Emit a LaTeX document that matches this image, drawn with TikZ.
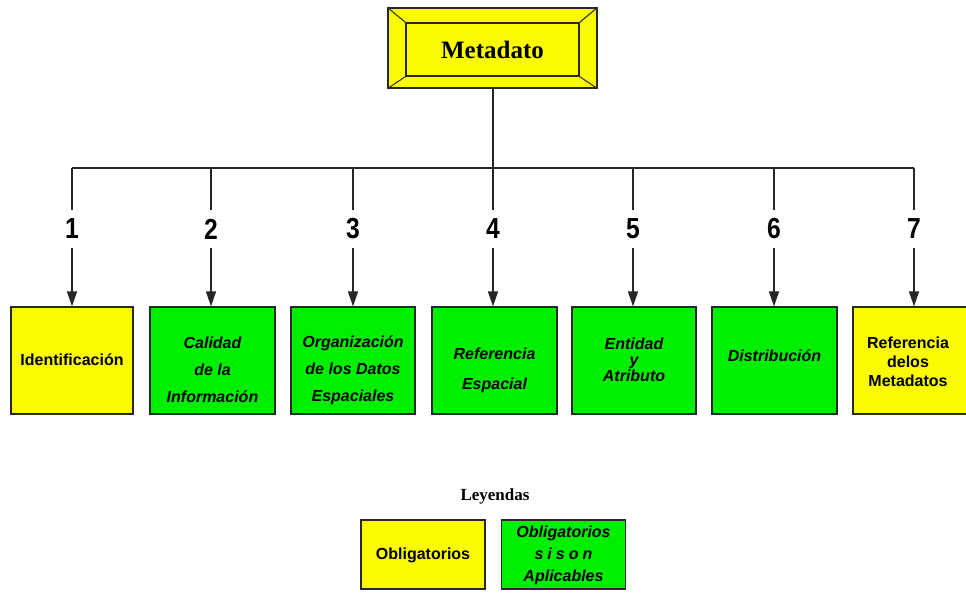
\documentclass[tikz,border=0pt]{standalone}
\usepackage{fontspec}
\setmainfont{Liberation Serif}
\newfontfamily\boxfont{Liberation Sans}
\newfontfamily\numfont[FakeStretch=0.85]{Liberation Sans}
\usetikzlibrary{arrows.meta}
\definecolor{ybox}{RGB}{250,250,0}
\definecolor{gbox}{RGB}{0,238,0}
\definecolor{edge}{RGB}{40,40,40}
\begin{document}
\begin{tikzpicture}[x=1pt,y=-1pt,
  conn/.style={line width=1.3pt, draw=black!85},
  arr/.style={conn,-{Triangle[width=10pt,length=15pt]}},
  catbox/.style={draw=edge, line width=1.3pt, minimum width=124pt, minimum height=107pt, inner sep=0pt},
  ycat/.style={catbox, fill=ybox},
  gcat/.style={catbox, fill=gbox},
  btxt/.style={inner sep=0pt, align=center, font=\boxfont\bfseries\fontsize{16}{19}\selectfont},
  itxt/.style={inner sep=0pt, align=center, font=\boxfont\bfseries\itshape\fontsize{16}{27}\selectfont},
  num/.style={inner sep=0pt, minimum height=38pt, font=\numfont\bfseries\fontsize{29}{29}\selectfont},
  legbox/.style={draw=edge, line width=1.3pt, minimum width=124pt, minimum height=69pt, inner sep=0pt}
]
\useasboundingbox (0,0) rectangle (966,592);
\clip (0,0) rectangle (966,592);
\fill[white] (0,0) rectangle (966,592);

% Metadato bevel box
\node[draw=edge, line width=1.3pt, fill=ybox, minimum width=209pt, minimum height=80pt, inner sep=0pt] (meta) at (492.5,48) {};
\node[draw=edge, line width=1.3pt, minimum width=173pt, minimum height=53pt, inner sep=0pt,
      font=\bfseries\fontsize{25}{25}\selectfont] (metain) at (492.5,49.5) {Metadato};
\draw[edge, line width=1pt] (meta.north west) -- (metain.north west)
  (meta.north east) -- (metain.north east)
  (meta.south west) -- (metain.south west)
  (meta.south east) -- (metain.south east);

% bus
\coordinate (bus) at (493,168);
\coordinate (b1) at (72,168);
\coordinate (b2) at (211,168);
\coordinate (b3) at (353,168);
\coordinate (b4) at (493,168);
\coordinate (b5) at (633,168);
\coordinate (b6) at (774,168);
\coordinate (b7) at (914,168);
\draw[conn] (meta.south -| bus) -- (bus);
\draw[conn] (b1) -- (b7);

% numbers
\node[num] (n1) at (72,229) {1};
\node[num] (n2) at (211,229) {2};
\node[num] (n3) at (353,229) {3};
\node[num] (n4) at (493,229) {4};
\node[num] (n5) at (633,229) {5};
\node[num] (n6) at (774,229) {6};
\node[num] (n7) at (914,229) {7};

% category boxes
\node[ycat, minimum width=122pt] (c1) at (72,360.5) {};
\node[gcat, minimum width=125pt] (c2) at (212.5,360.5) {};
\node[gcat] (c3) at (353,360.5) {};
\node[gcat, minimum width=125pt] (c4) at (494.5,360.5) {};
\node[gcat] (c5) at (634,360.5) {};
\node[gcat, minimum width=125pt] (c6) at (774.5,360.5) {};
\node[ycat] (c7) at (915,360.5) {};

\foreach \i in {1,...,7} {
  \draw[conn] (b\i) -- (n\i.north);
  \draw[arr] (n\i.south) -- (n\i.south |- c\i.north);
}

% box texts
\node[btxt] (t1) at (72,360) {Identificación};
\node[itxt] (t2) at (212.5,370) {Calidad\\de la\\Información};
\node[itxt] (t3) at (353,370) {Organización\\de los Datos\\Espaciales};
\node[itxt, font=\boxfont\bfseries\itshape\fontsize{16}{30}\selectfont] (t4) at (494.5,370) {Referencia\\Espacial};
\node[itxt, font=\boxfont\bfseries\itshape\fontsize{16}{16}\selectfont] (t5) at (634,360) {Entidad\\y\\Atributo};
\node[itxt] (t6) at (774.5,356) {Distribución};
\node[btxt] (t7) at (908,362) {Referencia\\delos\\Metadatos};

% legend
\node[inner sep=0pt, font=\bfseries\fontsize{17}{17}\selectfont] (ley) at (495,496) {Leyendas};
\node[legbox, fill=ybox] (l1) at (423,554.5) {};
\node[legbox, fill=gbox] (l2) at (563.5,554.5) {};
\node[btxt] (lt1) at (423,555) {Obligatorios};
\node[itxt, font=\boxfont\bfseries\itshape\fontsize{16}{22}\selectfont] (lt2) at (563.5,555) {Obligatorios\\{\addfontfeature{LetterSpace=25}sison}\\Aplicables};
\end{tikzpicture}
\end{document}
